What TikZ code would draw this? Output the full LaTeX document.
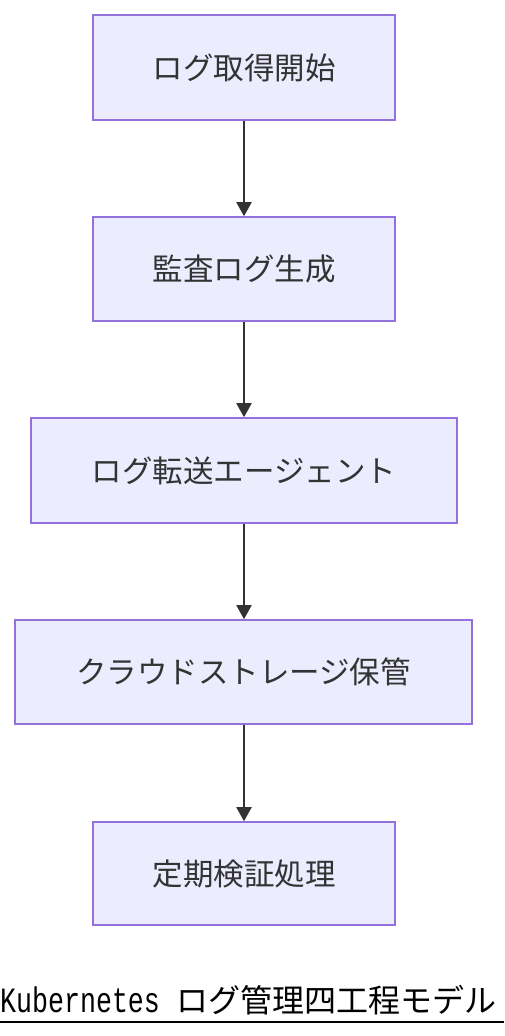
\documentclass[tikz,border=0pt]{standalone}
\usepackage{fontspec}
\setmainfont{Noto Sans CJK JP}
\newfontfamily\cjkfont{Noto Sans CJK JP}
\newfontfamily\monofont{Liberation Mono}
\usetikzlibrary{arrows.meta}
\definecolor{boxfill}{HTML}{ECECFF}
\definecolor{boxline}{HTML}{9370DB}
\definecolor{txt}{HTML}{333333}
\tikzset{
  stepbox/.style={draw=boxline, fill=boxfill, line width=1.6pt, minimum height=104pt,
    text=txt, font=\cjkfont\fontsize{30.5}{34}\selectfont, inner sep=0pt},
  flow/.style={draw=txt, line width=2pt, -{Triangle[width=15pt,length=14pt]}}
}
\begin{document}
\begin{tikzpicture}[x=1pt,y=1pt]
\useasboundingbox (0,0) rectangle (504,-1036);
\node[stepbox, minimum width=302pt, minimum height=105pt] (n1) at (244,-67.5) {ログ取得開始};
\node[stepbox, minimum width=302pt] (n2) at (244,-269) {監査ログ生成};
\node[stepbox, minimum width=426pt, minimum height=105pt] (n3) at (244,-470.5) {ログ転送エージェント};
\node[stepbox, minimum width=457pt] (n4) at (243.5,-672) {クラウドストレージ保管};
\node[stepbox, minimum width=302pt, minimum height=103pt] (n5) at (244,-873.5) {定期検証処理};
\draw[flow] (n1.south) -- (n2.north);
\draw[flow] (n2.south) -- (n3.north);
\draw[flow] (n3.south -| n2.south) -- (n4.north -| n2.south);
\draw[flow] (n4.south -| n2.south) -- (n5.north);
\node[anchor=base west, inner sep=0pt, text=black] (title) at (0,-1012)
  {\scalebox{0.75}[1]{\monofont\fontsize{35.5}{38}\selectfont Kubernetes}\hspace{17pt}\cjkfont\fontsize{32}{35}\selectfont ログ管理四工程モデル};
\coordinate (ulA) at (0,-1021.5);
\coordinate (ulB) at (504,-1021.5);
\draw[line width=2pt, black] (ulA) -- (ulB);
\end{tikzpicture}
\end{document}
